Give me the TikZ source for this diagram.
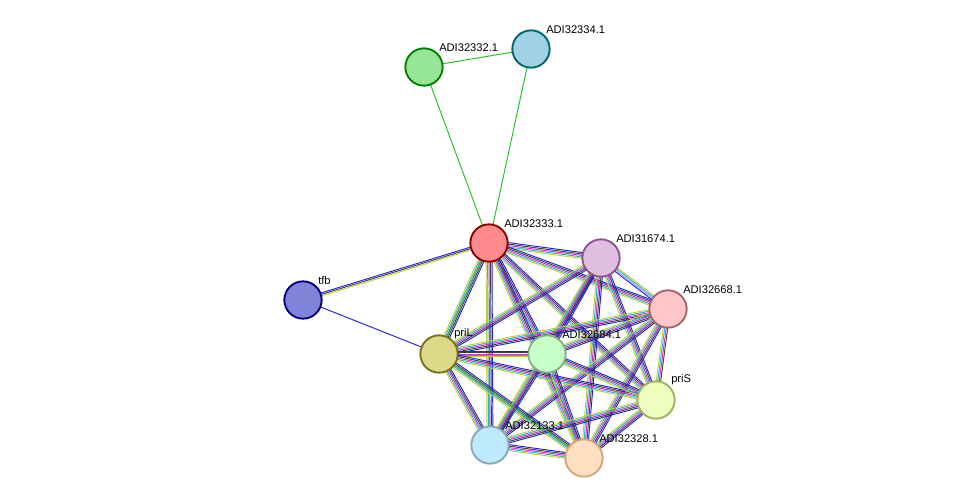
\documentclass[tikz,border=0pt]{standalone}
\usepackage{fontspec}
\setmainfont{Liberation Sans}
\usetikzlibrary{calc,backgrounds}
\definecolor{tm}{HTML}{C0D030}
\definecolor{db}{HTML}{30B0D0}
\definecolor{ex}{HTML}{D030D0}
\definecolor{ce}{HTML}{404040}
\definecolor{co}{HTML}{2020E0}
\definecolor{nb}{HTML}{20C020}
\definecolor{hm}{HTML}{A0A0F0}
\tikzset{
  prot/.style 2 args={circle,draw=#2,fill=#1,line width=1.6pt,minimum size=1.12cm,inner sep=0pt},
  lab/.style={font=\fontsize{9.5}{10}\selectfont,above right,inner sep=1pt}
}
% bundle of parallel lines between two nodes
\newcommand{\bundle}[4]{%
  \foreach \c [count=\i] in {#4} {%
    \pgfmathsetmacro\o{(\i-1)*1.25-(#1-1)*0.625}
    \draw[\c,line width=0.8pt] ($(#2)!\o pt!90:(#3)$) -- ($(#3)!\o pt!-90:(#2)$);
  }}
\begin{document}
\begin{tikzpicture}[x=0.03cm,y=-0.03cm]
  \useasboundingbox (0,0) rectangle (976,503);
  \node[prot={green!35!white!90!black}{green!50!black}] (p32332) at (424,67) {};
  \node[prot={cyan!35!white!90!black}{teal!80!black}] (p32334) at (531,49) {};
  \node[prot={red!45!white}{red!55!black}] (p32333) at (489,243) {};
  \node[prot={violet!25!white}{violet!60!white!80!black}] (p31674) at (601,258) {};
  \node[prot={red!22!white}{red!40!black!60!white}] (p32668) at (668,309) {};
  \node[prot={blue!40!white!85!black}{blue!50!black}] (tfb) at (303,300) {};
  \node[prot={yellow!45!white!85!black}{olive!80!black}] (priL) at (439,354) {};
  \node[prot={green!22!white}{green!40!black!50!white}] (p32684) at (547,354) {};
  \node[prot={lime!25!white}{lime!50!black!60!white}] (priS) at (656,400) {};
  \node[prot={cyan!25!white}{cyan!50!black!60!white}] (p32133) at (490,445) {};
  \node[prot={orange!25!white}{brown!70!white}] (p32328) at (584,458) {};
  \node[lab] at (p32332.north east) {ADI32332.1};
  \node[lab] at (p32334.north east) {ADI32334.1};
  \node[lab] at (p32333.north east) {ADI32333.1};
  \node[lab] at (p31674.north east) {ADI31674.1};
  \node[lab] at (p32668.north east) {ADI32668.1};
  \node[lab] at (tfb.north east) {tfb};
  \node[lab] at (priL.north east) {priL};
  \node[lab] at (p32684.north east) {ADI32684.1};
  \node[lab] at (priS.north east) {priS};
  \node[lab] at (p32133.north east) {ADI32133.1};
  \node[lab] at (p32328.north east) {ADI32328.1};
  \begin{scope}[on background layer]
    \bundle{1}{p32332}{p32334}{nb}
    \bundle{1}{p32332}{p32333}{nb}
    \bundle{1}{p32334}{p32333}{nb}
    \bundle{3}{tfb}{p32333}{tm,ce,co}
    \bundle{1}{tfb}{priL}{co}
    \foreach \a/\b in {p32333/p31674,p32333/p32668,p32333/priL,p32333/p32684,
      p32333/priS,p32333/p32133,p32333/p32328,p31674/priL,p31674/p32684,
      p31674/priS,p31674/p32133,p31674/p32328,p32668/priL,p32668/p32684,
      p32668/p32133,p32668/p32328,priL/p32684,priL/priS,priL/p32133,
      priL/p32328,p32684/priS,p32684/p32133,p32684/p32328,priS/p32133,
      priS/p32328,p32133/p32328}
      {\bundle{5}{\a}{\b}{tm,db,ex,ce,co}}
    \bundle{4}{p31674}{p32668}{co,hm,db,tm}
    \bundle{4}{p32668}{priS}{tm,db,ex,ce}
    \bundle{1}{p32333}{priL}{nb}
    \bundle{1}{priL}{p32328}{nb}
  \end{scope}
\end{tikzpicture}
\end{document}
